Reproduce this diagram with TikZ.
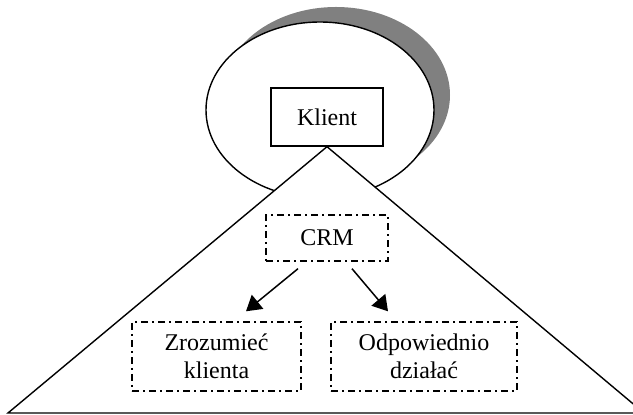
\documentclass[tikz,border=0pt]{standalone}
\usepackage{fontspec}
\setmainfont{Liberation Serif}
\usetikzlibrary{arrows.meta, positioning}

\begin{document}
\begin{tikzpicture}[
  x=0.5pt, y=-0.5pt,
  font=\fontsize{12}{14}\selectfont,
  line width=0.7pt,
  solidbox/.style={draw, fill=white, align=center, inner sep=2pt},
  dotbox/.style={draw, dash pattern=on 3.5pt off 2pt on 1pt off 2pt, align=center, inner sep=2pt},
  edge/.style={-{Triangle[length=7.5pt, width=9pt]}, line width=0.75pt}
]
\clip (0,0) rectangle (633,415);
\fill[black!50] (336,95) ellipse [x radius=57pt, y radius=44pt];
\draw[fill=white] (320,110) ellipse [x radius=57pt, y radius=44pt];

\node[solidbox, minimum width=56pt, minimum height=29pt] (klient) at (327,117) {Klient};
\coordinate (leftcorner) at (8,413);
\coordinate (rightcorner) at (644,413);
\draw[fill=white] (klient.south) -- (leftcorner) -- (rightcorner) -- cycle;
\node[solidbox, minimum width=56pt, minimum height=29pt] at (klient) {Klient};

\node[dotbox, minimum width=61pt, minimum height=23pt] (crm) at (327,238) {CRM};
\node[dotbox, minimum width=84.5pt, minimum height=34.5pt] (zrozumiec) at (216.5,356.5) {Zrozumieć\\klienta};
\node[dotbox, minimum width=93pt, minimum height=34.5pt] (dzialac) at (424,356.5) {Odpowiednio\\działać};

\draw[edge] ([xshift=-14.5pt, yshift=-3.5pt]crm.south) -- ([xshift=14.75pt, yshift=5pt]zrozumiec.north);
\draw[edge] ([xshift=12.5pt, yshift=-3.5pt]crm.south) -- ([xshift=-18pt, yshift=5pt]dzialac.north);
\end{tikzpicture}
\end{document}
